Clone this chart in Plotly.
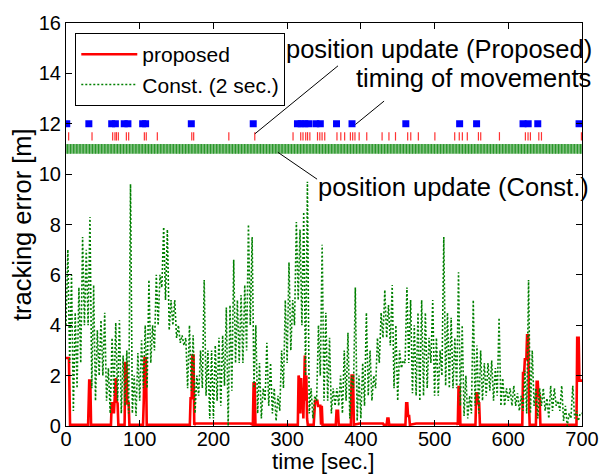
import plotly.graph_objects as go

FONT = "Liberation Sans, Arial, Helvetica, sans-serif"

# ---- proposed method: tracking error (breakpoints) ----
prop_t = [0, 4, 5.5, 30, 31.5, 33, 34,
          61, 62, 64, 65, 66, 67.5, 68.5, 70, 71,
          79.5, 80.5, 82, 83, 85, 86,
          104.5, 105.5, 106.5, 108.5, 109.5,
          168, 169, 170.5, 171.5, 173, 174, 176, 250,
          253.5, 254.5, 256, 257,
          314.5, 315.5, 317, 318, 319, 320, 321, 322, 323, 324, 325, 326, 327, 328,
          336, 337, 338, 341, 342, 345, 346, 347, 348,
          366, 367, 369, 370, 386.5, 387.5, 389.5, 390.5, 398, 430, 431,
          435, 436, 437.5, 438.5,
          460.5, 461.5, 463, 464, 465.5, 466.5, 475, 530, 531.5,
          532.5, 534, 535, 555.5, 556.5, 558, 559, 560.5, 561.5,
          619, 620, 621.5, 622.5, 624.5, 625.5, 627, 628, 629,
          637.5, 638.5, 640, 641, 642.5, 643.5,
          692.5, 693.5, 695.5, 696.5, 700]
prop_v = [2.7, 2.7, 0.05, 0.05, 1.8, 1.8, 0.05,
          0.05, 0.9, 0.9, 0.5, 1.0, 1.9, 1.0, 0.9, 0.05,
          0.05, 2.5, 2.5, 0.9, 0.9, 0.05,
          0.05, 1.0, 2.7, 2.7, 0.05,
          0.05, 1.1, 1.1, 2.8, 2.8, 0.05, 0.1, 0.1,
          0.05, 1.7, 1.7, 0.05,
          0.05, 2.0, 1.8, 0.5, 1.9, 0.8, 1.5, 0.3, 1.6, 2.8, 1.0, 2.0, 0.3, 0.05,
          0.05, 0.9, 1.0, 1.0, 0.8, 0.8, 0.05, 0.8, 0.05,
          0.05, 0.6, 0.6, 0.05, 0.05, 2.0, 2.0, 0.05, 0.1, 0.1, 0.05,
          0.05, 0.3, 0.3, 0.05,
          0.05, 0.9, 0.9, 0.4, 0.4, 0.05, 0.1, 0.1, 0.05,
          1.55, 1.55, 0.05, 0.05, 1.3, 1.3, 0.9, 0.9, 0.05,
          0.05, 2.1, 2.1, 2.65, 2.65, 3.6, 3.6, 1.0, 0.05,
          0.05, 1.75, 1.75, 1.2, 1.2, 0.05,
          0.05, 3.5, 3.5, 1.8, 1.8]

# ---- Const. (2 sec.) tracking error: lows at t=0,5,..,700 ; highs at t=2.5,7.5,..,697.5 ----
const_low = [4.0, 2.5, 0.6, 1.5, 2.5, 4.0, 4.0, 1.5, 1.0, 2.0,
             2.0, 1.0, 0.5, 1.2, 1.0, 0.5, 0.8, 0.5, 0.5, 0.4,
             1.0, 1.5, 1.5, 2.5, 3.0, 4.0, 5.5, 5.0, 3.8, 4.0,
             3.5, 3.3, 3.2, 1.5, 1.4, 0.5, 1.2, 1.5, 1.2, 0.3,
             0.3, 1.0, 0.8, 1.6, 0.0, 1.4, 2.5, 2.5, 2.5, 3.0,
             4.0, 1.5, 0.5, 0.3, 1.0, 0.8, 0.5, 0.2, 0.6, 1.5,
             2.5, 3.0, 4.0, 5.0, 4.0, 2.0, 0.5, 0.3, 1.0, 2.0,
             1.0, 1.0, 0.5, 0.8, 0.8, 0.5, 1.0, 0.3, 1.5, 0.2,
             0.3, 0.8, 1.2, 1.0, 1.5, 2.5, 3.5, 3.5, 3.2, 1.5,
             1.0, 2.3, 2.5, 2.5, 1.3, 1.2, 1.0, 1.2, 1.5, 2.5,
             1.2, 1.2, 2.0, 1.6, 1.5, 1.5, 1.5, 0.8, 0.4, 0.3,
             0.5, 0.8, 0.5, 1.0, 1.2, 1.4, 1.0, 1.2, 0.8, 0.8,
             1.0, 0.8, 0.8, 0.6, 0.6, 0.5, 0.5, 0.8, 0.3, 0.8,
             0.6, 0.3, 0.6, 0.8, 0.6, 0.2, 0.0, 0.3, 0.3, 0.2,
             0.5]
const_high = [7.0, 6.0, 4.5, 5.5, 7.5, 7.0, 8.3, 5.6, 3.8, 4.2,
              4.5, 2.3, 3.5, 4.1, 4.2, 2.8, 3.0, 9.6, 2.0, 2.9,
              3.4, 4.0, 5.8, 4.0, 6.0, 6.0, 7.9, 7.8, 5.0, 5.0,
              4.0, 3.6, 3.5, 4.0, 3.6, 2.0, 3.0, 5.8, 3.0, 3.0,
              3.2, 3.5, 3.6, 4.7, 4.8, 6.6, 5.0, 5.2, 5.6, 8.0,
              7.5, 4.0, 2.5, 1.5, 3.3, 2.5, 1.5, 1.2, 3.0, 5.0,
              6.5, 5.0, 8.1, 7.8, 8.5, 9.7, 1.5, 1.2, 4.0, 7.2,
              4.5, 3.5, 1.5, 1.5, 2.0, 3.0, 3.7, 2.0, 5.5, 2.0,
              2.5, 4.5, 3.0, 2.0, 3.5, 4.5, 5.4, 4.8, 5.6, 4.0,
              3.0, 2.6, 5.5, 5.0, 4.0, 4.5, 5.0, 4.5, 3.5, 5.0,
              3.5, 3.0, 7.5, 4.5, 4.3, 3.5, 6.1, 4.0, 2.0, 1.2,
              5.0, 3.2, 3.0, 2.5, 2.5, 2.6, 2.3, 4.3, 1.9, 1.5,
              1.5, 1.6, 1.3, 1.2, 2.2, 5.8, 3.0, 1.5, 1.5, 1.5,
              1.1, 1.6, 1.5, 1.0, 1.6, 0.8, 0.5, 1.6, 0.6, 0.5]

# ---- event rows ----
movement_times = [1, 31, 62, 67, 79, 84, 104, 108, 170, 254,
                  314, 319, 324, 329, 339, 345, 367, 388, 461, 534,
                  557, 620, 627, 640, 696]
update_prop_times = [3.6, 35.3, 63.3, 66.4, 68.4, 71, 81.9, 85, 106.3, 108.9,
                     123.9, 170.6, 173.2, 220.9, 256.1, 308, 318.4, 321.5, 325.2, 327.7,
                     330.8, 341.2, 344.3, 347.4, 351, 367.6, 372.8, 378, 385.8, 388.9,
                     392, 397.7, 408, 428.8, 438.1, 447, 463.5, 467.7, 478, 500.4,
                     527.3, 533.5, 537.7, 544.4, 559.5, 562.6, 588, 623.2, 626.8, 630,
                     641.4, 645, 699.2]
update_const_times = list(range(0, 701, 2))

row_movement = 12.0
row_prop = 11.5
row_const = 11.0

const_t, const_v = [], []
for i in range(len(const_high)):
    const_t += [5 * i, 5 * i + 2.5]
    const_v += [const_low[i], const_high[i]]
const_t.append(700)
const_v.append(const_low[-1])

fig = go.Figure()

fig.add_trace(go.Scatter(x=prop_t, y=prop_v, mode="lines", name="proposed",
                         line=dict(color="rgb(255,0,0)", width=2.6)))
fig.add_trace(go.Scatter(x=const_t, y=const_v, mode="lines", name="Const. (2 sec.)",
                         line=dict(color="rgb(0,128,0)", width=1.6, dash="2px,2px")))

fig.add_trace(go.Scatter(x=update_const_times, y=[row_const] * len(update_const_times),
                         mode="markers", showlegend=False,
                         marker=dict(symbol="line-ns", size=7,
                                     line=dict(color="rgb(40,150,40)", width=1.2))))
fig.add_trace(go.Scatter(x=update_prop_times, y=[row_prop] * len(update_prop_times),
                         mode="markers", showlegend=False,
                         marker=dict(symbol="line-ns", size=6,
                                     line=dict(color="rgb(255,50,50)", width=1.2))))
fig.add_trace(go.Scatter(x=movement_times, y=[row_movement] * len(movement_times),
                         mode="markers", showlegend=False,
                         marker=dict(symbol="square", size=7, color="rgb(0,0,255)",
                                     line=dict(width=0))))

axis_common = dict(showline=True, linecolor="black", linewidth=1.2, mirror="ticks",
                   ticks="inside", ticklen=6, tickcolor="black", tickwidth=1,
                   showgrid=False, zeroline=False,
                   tickfont=dict(family=FONT, size=20, color="black"))

fig.update_layout(
    width=611, height=474,
    margin=dict(l=66, r=19, t=18, b=48),
    paper_bgcolor="white", plot_bgcolor="white",
    font=dict(family=FONT, color="black"),
    xaxis=dict(range=[0, 700], tickvals=[0, 100, 200, 300, 400, 500, 600, 700],
               ticklabelstandoff=-5, **axis_common),
    yaxis=dict(range=[0, 16], tickvals=[0, 2, 4, 6, 8, 10, 12, 14, 16], **axis_common),
    legend=dict(x=0.018, y=0.975, xanchor="left", yanchor="top",
                bgcolor="white", bordercolor="black", borderwidth=1,
                font=dict(family=FONT, size=21, color="black"),
                itemwidth=56, tracegroupgap=0),
    showlegend=True,
)

ann_font = dict(family=FONT, size=25.5, color="black")
fig.add_annotation(x=1.024, y=14.95, xref="paper", yref="y", xanchor="right", yanchor="middle",
                   text="position update (Proposed)", showarrow=False, font=ann_font)
fig.add_annotation(x=1.022, y=13.8, xref="paper", yref="y", xanchor="right", yanchor="middle",
                   text="timing of movements", showarrow=False, font=ann_font)
fig.add_annotation(x=1.018, y=9.48, xref="paper", yref="y", xanchor="right", yanchor="middle",
                   text="position update (Const.)", showarrow=False, font=ann_font)

line_style = dict(color="black", width=1)
fig.add_shape(type="line", xref="x", yref="y", x0=369, y0=14.3, x1=256.2, y1=11.6, line=line_style)
fig.add_shape(type="line", xref="x", yref="y", x0=431.5, y0=12.9, x1=392.6, y1=11.97, line=line_style)
fig.add_shape(type="line", xref="x", yref="y", x0=340.6, y0=9.8, x1=287.3, y1=10.87, line=line_style)

fig.add_annotation(x=0.4995, y=-0.1235, xref="paper", yref="paper", xanchor="center", yanchor="bottom",
                   text="time [sec.]", showarrow=False,
                   font=dict(family=FONT, size=22.5, color="black"))
fig.add_annotation(x=-0.085, y=0.499, xref="paper", yref="paper", xanchor="center", yanchor="middle",
                   text="tracking error [m]", showarrow=False, textangle=-90,
                   font=dict(family=FONT, size=25.5, color="black"))

fig.write_html("out.html")
